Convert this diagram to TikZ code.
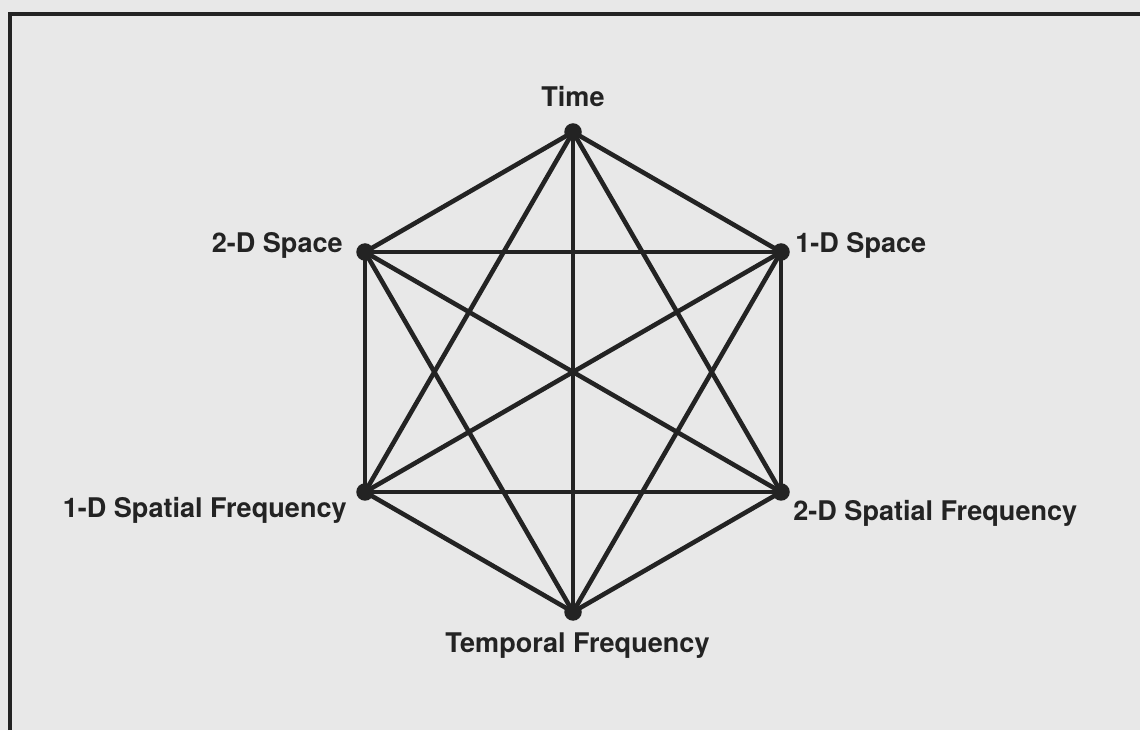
\documentclass[tikz,border=0pt]{standalone}
\usepackage{fontspec}
\setmainfont{TeX Gyre Heros}
\usepackage{tikz}
\usetikzlibrary{positioning}
\definecolor{paper}{RGB}{232,232,232}
\definecolor{ink}{RGB}{35,35,35}

\begin{document}
\begin{tikzpicture}[
  vtx/.style={circle, fill=ink, inner sep=0pt, minimum size=3.5mm},
  lab/.style={inner sep=0pt, text=ink, font=\fontsize{15.4}{18}\selectfont\bfseries},
  edge/.style={draw=ink, line width=2.6pt, line cap=round}]
  % ---------------- page and frame
  \fill[paper] (0,0) rectangle (22.8,14.6);
  \useasboundingbox (0,0) rectangle (22.8,14.6);
  \draw[ink, line width=2.8pt] (0.2,0) -- (0.2,14.32) -- (22.8,14.32);
  % ---------------- domains
  \node[vtx] (tm)  at (11.46,11.96) {};
  \node[vtx] (sp1) at (15.62,9.56) {};
  \node[vtx] (sf2) at (15.62,4.76) {};
  \node[vtx] (tf)  at (11.46,2.36) {};
  \node[vtx] (sf1) at (7.30,4.76) {};
  \node[vtx] (sp2) at (7.30,9.56) {};
  \node[lab, anchor=base] (tmlab) at (11.46,12.46) {Time};
  \node[lab, anchor=base west] (sp1lab) at (15.90,9.54) {1-D Space};
  \node[lab, anchor=base east] (sp2lab) at (6.86,9.54) {2-D Space};
  \node[lab, anchor=base east] (sf1lab) at (6.94,4.24) {1-D Spatial Frequency};
  \node[lab, anchor=base west] (sf2lab) at (15.86,4.20) {2-D Spatial Frequency};
  \node[lab, anchor=base] (tflab) at (11.55,1.56) {Temporal Frequency};
  % ---------------- every pair joined
  \foreach \a/\b in {tm/sp1,tm/sf2,tm/tf,tm/sf1,tm/sp2,sp1/sf2,sp1/tf,sp1/sf1,sp1/sp2,
                     sf2/tf,sf2/sf1,sf2/sp2,tf/sf1,tf/sp2,sf1/sp2}{
    \draw[edge] (\a.center) -- (\b.center);}
\end{tikzpicture}
\end{document}
